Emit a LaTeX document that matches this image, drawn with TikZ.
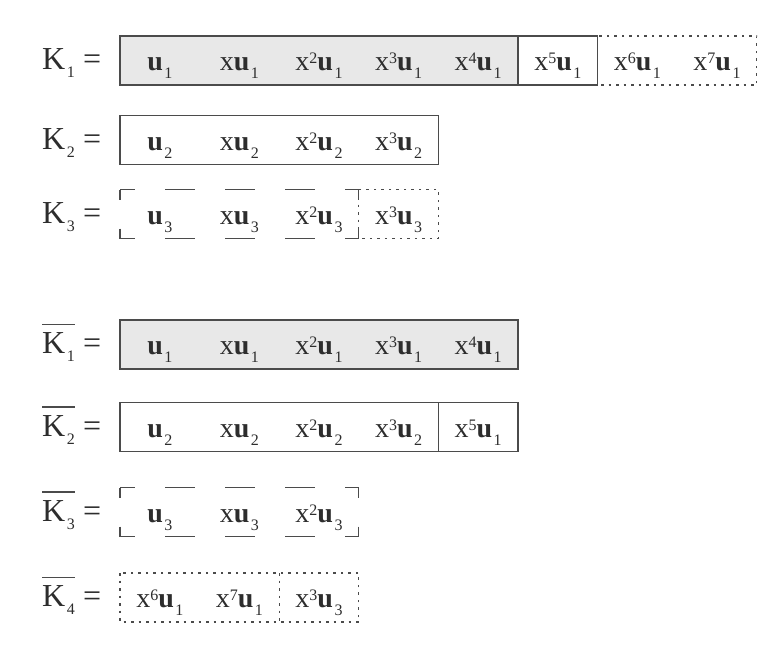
\documentclass[tikz,border=0pt]{standalone}
\usepackage{fontspec}
\setmainfont{Liberation Serif}
\usepackage{xcolor}
\definecolor{ink}{RGB}{45,45,45}
\definecolor{edge}{RGB}{75,75,75}
\definecolor{shade}{RGB}{232,232,232}
\usepackage{tikz}
\usetikzlibrary{positioning,backgrounds}
\newcommand{\sub}[1]{\kern1.5pt\raisebox{-8pt}{\fontsize{16}{16}\selectfont #1}}
\newcommand{\super}[1]{\raisebox{7pt}{\fontsize{16}{16}\selectfont #1}}
\newcommand{\tu}[2]{x\super{#1}\textbf{u}\sub{#2}}
\begin{document}
\begin{tikzpicture}[x=1pt, y=-1pt,
    every node/.style={text=ink},
    cell/.style={font=\fontsize{28}{34}\selectfont, minimum width=79.6pt, minimum height=49pt, inner xsep=0pt, inner ysep=10.5pt, text height=24pt, text depth=4pt, outer sep=0pt},
    lhs/.style={font=\fontsize{32}{38}\selectfont, anchor=base west, inner sep=0pt},
    solidbox/.style={draw=edge, line width=1.2pt},
    shadedbox/.style={solidbox, fill=shade},
    dotbox/.style={draw=edge, line width=1.2pt, dash pattern=on 2.5pt off 5pt},
    hdash/.style={draw=edge, line width=1.2pt, dash pattern=on 30pt off 30pt, dash phase=15pt},
    vdash/.style={draw=edge, line width=1.2pt, dash pattern=on 10pt off 29pt},
    bar/.style={draw=edge, line width=1.3pt}]
    \useasboundingbox (0,0) rectangle (763,657);

    % K_1, K_2, K_3
    \node[lhs] (k1) at (42,69.5) {K\sub{1}};
    \node[lhs] (eq1) at (83,69.5) {=};
    \foreach \t [count=\i] in {\textbf{u}\sub{1}, x\textbf{u}\sub{1}, \tu{2}{1}, \tu{3}{1}, \tu{4}{1}, \tu{5}{1}, \tu{6}{1}, \tu{7}{1}}
        \node[cell] (a\i) at ({80.2+79.6*\i},60.5) {\t};

    \node[lhs] (k2) at (42,149) {K\sub{2}};
    \node[lhs] (eq2) at (83,149) {=};
    \foreach \t [count=\i] in {\textbf{u}\sub{2}, x\textbf{u}\sub{2}, \tu{2}{2}, \tu{3}{2}}
        \node[cell] (b\i) at ({80.2+79.6*\i},140) {\t};

    \node[lhs] (k3) at (42,223) {K\sub{3}};
    \node[lhs] (eq3) at (83,223) {=};
    \foreach \t [count=\i] in {\textbf{u}\sub{3}, x\textbf{u}\sub{3}, \tu{2}{3}, \tu{3}{3}}
        \node[cell] (c\i) at ({80.2+79.6*\i},214) {\t};

    % overlined K_1 .. K_4
    \node[lhs] (kb1) at (42,353.5) {K\sub{1}};
    \node[lhs] (eqb1) at (83,353.5) {=};
    \foreach \t [count=\i] in {\textbf{u}\sub{1}, x\textbf{u}\sub{1}, \tu{2}{1}, \tu{3}{1}, \tu{4}{1}}
        \node[cell] (d\i) at ({80.2+79.6*\i},344.5) {\t};

    \node[lhs] (kb2) at (42,436) {K\sub{2}};
    \node[lhs] (eqb2) at (83,436) {=};
    \foreach \t [count=\i] in {\textbf{u}\sub{2}, x\textbf{u}\sub{2}, \tu{2}{2}, \tu{3}{2}, \tu{5}{1}}
        \node[cell] (e\i) at ({80.2+79.6*\i},427) {\t};

    \node[lhs] (kb3) at (42,521) {K\sub{3}};
    \node[lhs] (eqb3) at (83,521) {=};
    \foreach \t [count=\i] in {\textbf{u}\sub{3}, x\textbf{u}\sub{3}, \tu{2}{3}}
        \node[cell] (f\i) at ({80.2+79.6*\i},512) {\t};

    \node[lhs] (kb4) at (42,606.5) {K\sub{4}};
    \node[lhs] (eqb4) at (83,606.5) {=};
    \foreach \t [count=\i] in {\tu{6}{1}, \tu{7}{1}, \tu{3}{3}}
        \node[cell] (g\i) at ({80.2+79.6*\i},597.5) {\t};

    % bars
    \foreach \n in {kb1,kb2,kb3,kb4}
        \draw[bar] ([yshift=8pt]\n.north west) -- ([yshift=8pt]\n.north east);

    % boxes
    \begin{scope}[on background layer]
        \fill[white] (0,0) rectangle (763,657);
        \draw[dotbox] (a7.north west) rectangle (a8.south east);
        \draw[shadedbox] (a1.north west) rectangle (a5.south east);
        \draw[solidbox] (a6.north west) rectangle (a6.south east);
        \draw[solidbox] (b1.north west) rectangle (b4.south east);
        \draw[dotbox] (c4.north west) rectangle (c4.south east);
        \draw[shadedbox] (d1.north west) rectangle (d5.south east);
        \draw[solidbox] (e1.north west) rectangle (e5.south east);
        \draw[solidbox] (e5.north west) -- (e5.south west);
        \draw[dotbox] (g1.north west) rectangle (g3.south east);
        \draw[dotbox] (g3.north west) -- (g3.south west);
    \end{scope}

    % bracketed groups
    \foreach \l/\r in {c1/c3, f1/f3} {
        \draw[hdash] (\l.north west) -- (\r.north east);
        \draw[hdash] (\l.south west) -- (\r.south east);
        \draw[vdash] (\l.north west) -- (\l.south west);
        \draw[vdash] (\r.north east) -- (\r.south east);
    }
\end{tikzpicture}
\end{document}
